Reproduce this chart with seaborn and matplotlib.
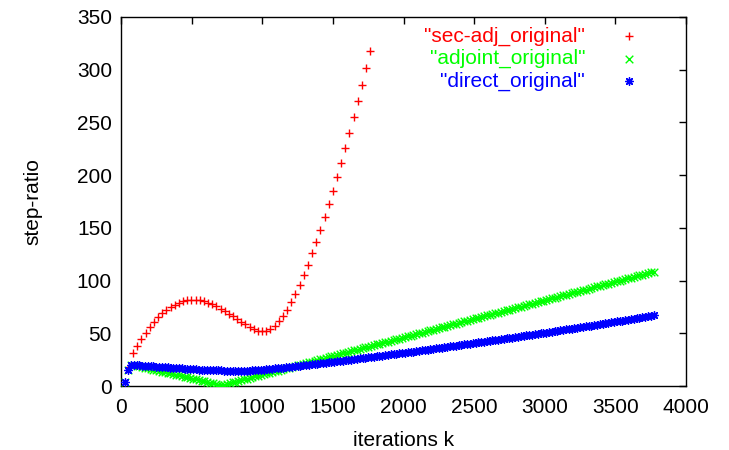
import numpy as np
import pandas as pd
import matplotlib
matplotlib.use("Agg")
import matplotlib.pyplot as plt
import seaborn as sns

# -----------------------------
# data
# -----------------------------
sec_adj_k = [57, 86, 116, 145, 175, 204, 234, 263, 293, 322,
             352, 381, 410, 440, 469, 499, 528, 558, 587, 617,
             646, 675, 705, 734, 764, 793, 823, 852, 881, 911,
             940, 970, 999, 1029, 1058, 1088, 1117, 1146, 1176, 1205,
             1235, 1264, 1294, 1323, 1353, 1382, 1411, 1441, 1470, 1500,
             1529, 1559, 1588, 1617, 1647, 1676, 1706, 1735, 1765]
sec_adj_ratio = [18.3, 31.6, 38.3, 44.6, 50.6, 56.3, 61.0, 65.1, 68.9, 72.1,
                 74.6, 77.1, 79.0, 80.6, 81.6, 81.9, 81.9, 81.6, 80.3, 79.0,
                 77.5, 75.6, 73.3, 71.1, 68.6, 66.1, 63.5, 61.0, 58.5, 56.0,
                 54.1, 52.5, 52.2, 52.5, 54.4, 56.9, 61.3, 66.1, 72.1, 79.7,
                 87.6, 96.1, 105.3, 114.8, 125.8, 136.9, 148.0, 160.0, 172.3, 184.9,
                 198.5, 211.5, 225.7, 240.3, 254.9, 270.0, 285.8, 301.6, 317.7]

# adjoint and direct share the same iteration grid
iters_k = [30, 50, 70, 90, 110, 130, 150, 170, 190, 210,
           230, 250, 270, 290, 310, 330, 350, 370, 390, 410,
           430, 450, 470, 490, 510, 530, 550, 570, 590, 610,
           630, 650, 670, 690, 710, 730, 750, 770, 790, 810,
           830, 850, 870, 890, 910, 930, 950, 970, 990, 1010,
           1030, 1050, 1070, 1090, 1110, 1130, 1150, 1170, 1190, 1210,
           1230, 1250, 1270, 1290, 1310, 1330, 1350, 1370, 1390, 1410,
           1430, 1450, 1470, 1490, 1510, 1530, 1550, 1570, 1590, 1610,
           1630, 1650, 1670, 1690, 1710, 1730, 1750, 1770, 1790, 1810,
           1830, 1850, 1870, 1890, 1910, 1930, 1950, 1970, 1990, 2010,
           2030, 2050, 2070, 2090, 2110, 2130, 2150, 2170, 2190, 2210,
           2230, 2250, 2270, 2290, 2310, 2330, 2350, 2370, 2390, 2410,
           2430, 2450, 2470, 2490, 2510, 2530, 2550, 2570, 2590, 2610,
           2630, 2650, 2670, 2690, 2710, 2730, 2750, 2770, 2790, 2810,
           2830, 2850, 2870, 2890, 2910, 2930, 2950, 2970, 2990, 3010,
           3030, 3050, 3070, 3090, 3110, 3130, 3150, 3170, 3190, 3210,
           3230, 3250, 3270, 3290, 3310, 3330, 3350, 3370, 3390, 3410,
           3430, 3450, 3470, 3490, 3510, 3530, 3550, 3570, 3590, 3610,
           3630, 3650, 3670, 3690, 3710, 3730, 3750, 3770]

adjoint_ratio = [4.0, 15.0, 20.0, 20.0, 19.4, 18.7, 18.1, 17.5, 16.9, 16.2,
                 15.6, 15.0, 14.4, 13.7, 13.1, 12.5, 11.9, 11.2, 10.6, 10.0,
                 9.4, 8.7, 8.1, 7.5, 6.9, 6.2, 5.6, 5.0, 4.4, 3.7,
                 3.1, 2.5, 1.9, 1.2, 0.6, 1.3, 2.0, 2.7, 3.4, 4.1,
                 4.8, 5.5, 6.2, 6.9, 7.7, 8.4, 9.1, 9.8, 10.5, 11.2,
                 11.9, 12.6, 13.3, 14.0, 14.7, 15.4, 16.1, 16.8, 17.5, 18.2,
                 18.9, 19.6, 20.3, 21.0, 21.8, 22.5, 23.2, 23.9, 24.6, 25.3,
                 26.0, 26.7, 27.4, 28.1, 28.8, 29.5, 30.2, 30.9, 31.6, 32.3,
                 33.0, 33.7, 34.4, 35.1, 35.9, 36.6, 37.3, 38.0, 38.7, 39.4,
                 40.1, 40.8, 41.5, 42.2, 42.9, 43.6, 44.3, 45.0, 45.7, 46.4,
                 47.1, 47.8, 48.5, 49.2, 50.0, 50.7, 51.4, 52.1, 52.8, 53.5,
                 54.2, 54.9, 55.6, 56.3, 57.0, 57.7, 58.4, 59.1, 59.8, 60.5,
                 61.2, 61.9, 62.6, 63.3, 64.1, 64.8, 65.5, 66.2, 66.9, 67.6,
                 68.3, 69.0, 69.7, 70.4, 71.1, 71.8, 72.5, 73.2, 73.9, 74.6,
                 75.3, 76.0, 76.7, 77.4, 78.2, 78.9, 79.6, 80.3, 81.0, 81.7,
                 82.4, 83.1, 83.8, 84.5, 85.2, 85.9, 86.6, 87.3, 88.0, 88.7,
                 89.4, 90.1, 90.8, 91.5, 92.3, 93.0, 93.7, 94.4, 95.1, 95.8,
                 96.5, 97.2, 97.9, 98.6, 99.3, 100.0, 100.7, 101.4, 102.1, 102.8,
                 103.5, 104.2, 104.9, 105.6, 106.4, 107.1, 107.8, 108.5]

direct_ratio = [4.0, 15.0, 19.5, 20.0, 19.8, 19.6, 19.4, 19.2, 19.0, 18.8,
                18.6, 18.4, 18.2, 18.0, 17.8, 17.6, 17.4, 17.2, 17.0, 16.8,
                16.6, 16.4, 16.2, 16.0, 15.8, 15.7, 15.5, 15.4, 15.3, 15.2,
                15.1, 15.0, 14.9, 14.8, 14.8, 14.7, 14.7, 14.6, 14.6, 14.6,
                14.6, 14.6, 14.6, 14.7, 14.7, 14.8, 14.9, 15.0, 15.1, 15.4,
                15.7, 16.0, 16.3, 16.6, 16.9, 17.2, 17.5, 17.8, 18.1, 18.4,
                18.7, 19.0, 19.3, 19.7, 20.0, 20.3, 20.6, 20.9, 21.2, 21.5,
                21.8, 22.2, 22.5, 22.8, 23.1, 23.4, 23.8, 24.1, 24.4, 24.7,
                25.1, 25.4, 25.8, 26.1, 26.4, 26.8, 27.1, 27.5, 27.8, 28.2,
                28.5, 28.9, 29.2, 29.6, 29.9, 30.3, 30.6, 31.0, 31.3, 31.7,
                32.0, 32.4, 32.7, 33.1, 33.5, 33.8, 34.2, 34.5, 34.9, 35.3,
                35.6, 36.0, 36.4, 36.8, 37.1, 37.5, 37.9, 38.2, 38.6, 39.0,
                39.4, 39.7, 40.1, 40.5, 40.9, 41.3, 41.6, 42.0, 42.4, 42.8,
                43.2, 43.6, 44.0, 44.4, 44.7, 45.1, 45.5, 45.9, 46.3, 46.7,
                47.1, 47.5, 47.9, 48.3, 48.7, 49.1, 49.5, 49.9, 50.3, 50.7,
                51.1, 51.5, 52.0, 52.4, 52.8, 53.2, 53.6, 54.0, 54.4, 54.8,
                55.2, 55.7, 56.1, 56.5, 56.9, 57.3, 57.8, 58.2, 58.6, 59.0,
                59.5, 59.9, 60.3, 60.8, 61.2, 61.6, 62.0, 62.5, 62.9, 63.4,
                63.8, 64.3, 64.7, 65.2, 65.7, 66.1, 66.6, 67.0]

x_ticks = [0, 500, 1000, 1500, 2000, 2500, 3000, 3500, 4000]
y_ticks = [0, 50, 100, 150, 200, 250, 300, 350]

# -----------------------------
# style
# -----------------------------
FS = 15
sns.set_theme(style="white")
plt.rcParams["font.family"] = ["Liberation Sans", "DejaVu Sans"]
plt.rcParams["font.size"] = FS
plt.rcParams["xtick.direction"] = "in"
plt.rcParams["ytick.direction"] = "in"

fig = plt.figure(figsize=(7.29, 4.5), dpi=100)
ax = fig.add_axes([121 / 729, 1 - 386 / 450, 565 / 729, 369 / 450])

series = [
    ('"sec-adj_original"', sec_adj_k, sec_adj_ratio, "#ff0000", "+"),
    ('"adjoint_original"', iters_k, adjoint_ratio, "#00ff00", "x"),
    ('"direct_original"', iters_k, direct_ratio, "#0000ff", (8, 2, 0)),
]

for label, k, r, col, mk in series:
    df = pd.DataFrame({"k": k, "ratio": r})
    sns.scatterplot(data=df, x="k", y="ratio", ax=ax, marker=mk, s=30,
                    color=col, linewidth=1.0, label=label, zorder=3)

ax.set_xlim(0, 4000)
ax.set_ylim(0, 350)
ax.set_xticks(x_ticks)
ax.set_yticks(y_ticks)
ax.tick_params(axis="both", which="major", length=5, width=1, color="black",
               labelsize=FS, labelcolor="black", top=True, right=True)
ax.tick_params(axis="x", pad=8.5)
ax.tick_params(axis="y", pad=6.5)

for sp in ax.spines.values():
    sp.set_color("black")
    sp.set_linewidth(1.0)

ax.set_xlabel("iterations k", fontsize=FS, color="black", labelpad=10)
ax.set_ylabel("step-ratio", fontsize=FS, color="black", labelpad=25)

leg = ax.legend(loc="upper right", bbox_to_anchor=(0.925, 0.973),
                frameon=False, markerfirst=False, borderpad=0,
                borderaxespad=0, handlelength=1.4, handletextpad=1.41,
                labelspacing=0.14, fontsize=FS,
                labelcolor=["#ff0000", "#00ff00", "#0000ff"])

fig.savefig("out.png", dpi=100)
